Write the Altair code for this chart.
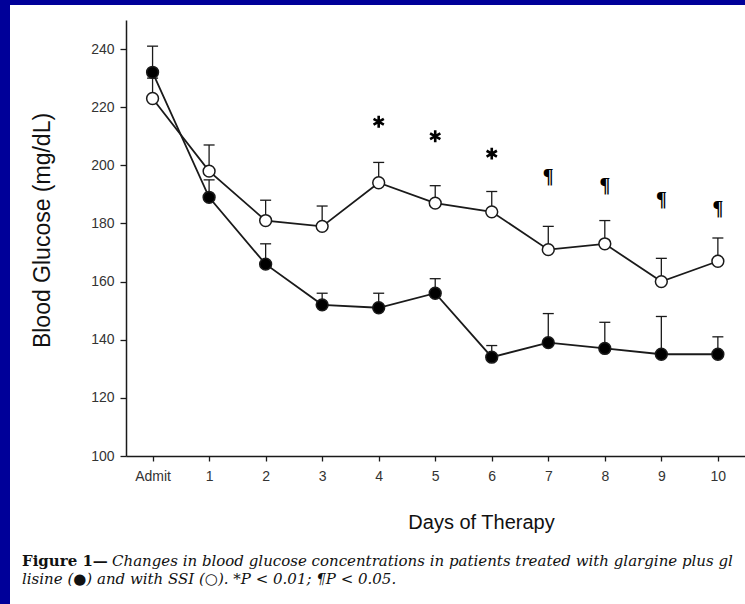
import json
import altair as alt
import pandas as pd

# ---- data ----
day_labels = ["Admit", "1", "2", "3", "4", "5", "6", "7", "8", "9", "10"]
days = list(range(11))
glargine = [232, 189, 166, 152, 151, 156, 134, 139, 137, 135, 135]
glargine_upper = [241, 195, 173, 156, 156, 161, 138, 149, 146, 148, 141]
ssi = [223, 198, 181, 179, 194, 187, 184, 171, 173, 160, 167]
ssi_upper = [230, 207, 188, 186, 201, 193, 191, 179, 181, 168, 175]
star_days = [4, 5, 6]
star_values = [215, 210, 204]
para_days = [7, 8, 9, 10]
para_values = [196, 193, 188, 185]
y_ticks = [100, 120, 140, 160, 180, 200, 220, 240]

caption_bold = "Figure 1\u2014"
caption_line1 = "Changes in blood glucose concentrations in patients treated with glargine plus gl"
caption_line2 = "lisine (\u25cf) and with SSI (\u25cb). *P < 0.01; \u00b6P < 0.05."

rows = []
for d, v, u in zip(days, glargine, glargine_upper):
    rows.append({"day": d, "value": v, "upper": u, "group": "glargine"})
for d, v, u in zip(days, ssi, ssi_upper):
    rows.append({"day": d, "value": v, "upper": u, "group": "SSI"})
df = pd.DataFrame(rows)
stars = pd.DataFrame({"day": star_days, "value": star_values})
paras = pd.DataFrame({"day": para_days, "value": para_values, "t": ["\u00b6"] * len(para_days)})

W, H = 619, 436
PAD_L, PAD_T = 126, 20
INK = "#1a1a1a"
SANS = "Liberation Sans, Arial, sans-serif"
SERIF = "DejaVu Serif, Liberation Serif, serif"

xscale = alt.Scale(domain=[-0.47, 10.48], nice=False, zero=False)
yscale = alt.Scale(domain=[100, 250], nice=False, zero=False)

label_expr = json.dumps(day_labels) + "[datum.value]"

x_enc = alt.X(
    "day:Q", scale=xscale,
    axis=alt.Axis(
        values=days, labelExpr=label_expr, title="Days of Therapy", grid=False, zindex=1,
        domainColor=INK, domainWidth=1.5, tickColor=INK, tickWidth=1.3, tickSize=5,
        labelFont=SANS, labelFontSize=14, labelColor="#333", labelPadding=8,
        titleFont=SANS, titleFontSize=20, titleFontWeight="normal", titleColor="#111",
        titleX=355, titleY=72, titleAlign="center", titleBaseline="alphabetic",
    ),
)
y_enc = alt.Y(
    "value:Q", scale=yscale,
    axis=alt.Axis(
        values=y_ticks, title="Blood Glucose (mg/dL)", grid=False, zindex=1,
        domainColor=INK, domainWidth=1.5, tickColor=INK, tickWidth=1.3, tickSize=6,
        labelFont=SANS, labelFontSize=14, labelColor="#333", labelPadding=6,
        titleFont=SANS, titleFontSize=23, titleFontWeight="normal", titleColor="#111",
        titleX=-84, titleY=H / 2 - 8, titleAngle=270, titleAlign="center", titleBaseline="middle",
    ),
)

one = alt.Data(values=[{}])

bg = alt.Chart(one).mark_rect(color="white").encode(
    x=alt.value(10 - PAD_L), x2=alt.value(745 - PAD_L),
    y=alt.value(5 - PAD_T), y2=alt.value(604 - PAD_T),
)

base = alt.Chart(df)

err = base.mark_rule(color=INK, strokeWidth=1.3).encode(
    x=x_enc, y=y_enc, y2="upper:Q", detail="group:N"
)
caps = base.mark_point(shape="stroke", size=121, strokeWidth=1.3, color=INK, opacity=1).encode(
    x="day:Q", y="upper:Q"
)
lines = base.mark_line(color=INK, strokeWidth=1.8).encode(
    x="day:Q", y="value:Q", detail="group:N"
)
pts = base.mark_point(shape="circle", size=140, filled=True, stroke=INK, strokeWidth=1.5, opacity=1).encode(
    x="day:Q", y="value:Q",
    fill=alt.Fill("group:N", scale=alt.Scale(domain=["glargine", "SSI"], range=["#000000", "#ffffff"]), legend=None),
    order=alt.Order("group:N", sort="ascending"),
)

asterisk = "M0,-1L0,1M-0.87,-0.5L0.87,0.5M-0.87,0.5L0.87,-0.5"
star_mark = alt.Chart(stars).mark_point(shape=asterisk, size=140, strokeWidth=2.6, color="#000000", opacity=1).encode(
    x="day:Q", y="value:Q"
)
para_mark = alt.Chart(paras).mark_text(
    font="Liberation Serif", fontSize=20, fontWeight="bold", color="#000000",
    baseline="middle", align="center",
).encode(x="day:Q", y="value:Q", text="t:N")

cap_bold = alt.Chart(one).mark_text(
    text=caption_bold, font=SERIF, fontSize=15, fontWeight="bold", color="#111",
    align="left", baseline="alphabetic",
).encode(x=alt.value(22 - PAD_L), y=alt.value(566 - PAD_T))
cap_1 = alt.Chart(one).mark_text(
    text=caption_line1, font=SERIF, fontSize=15, fontStyle="italic", color="#111",
    align="left", baseline="alphabetic",
).encode(x=alt.value(112 - PAD_L), y=alt.value(566 - PAD_T))
cap_2 = alt.Chart(one).mark_text(
    text=caption_line2, font=SERIF, fontSize=15, fontStyle="italic", color="#111",
    align="left", baseline="alphabetic",
).encode(x=alt.value(22 - PAD_L), y=alt.value(584 - PAD_T))

chart = alt.layer(
    bg, err, caps, lines, pts, star_mark, para_mark, cap_bold, cap_1, cap_2
).properties(
    width=W, height=H,
    padding={"left": PAD_L, "top": PAD_T, "right": 0, "bottom": 604 - PAD_T - H},
    autosize=alt.AutoSizeParams(type="none"),
    background="#000099",
).configure_view(stroke=None)

chart.save("out.html", embed_options={"renderer": "svg", "actions": False})
